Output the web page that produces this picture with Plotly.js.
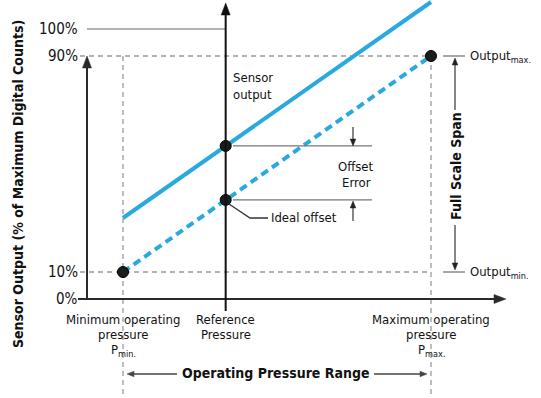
<!DOCTYPE html>
<html>
<head>
<meta charset="utf-8">
<script src="https://cdn.plot.ly/plotly-3.0.1.min.js"></script>
<style>html,body{margin:0;padding:0;background:#fff;}#chart{width:541px;height:398px;}</style>
</head>
<body>
<div id="chart"></div>
<script>
// ---- data ----
const pressureNames = ["Pmin", "Reference", "Pmax"];
const pressure = [10, 40, 100];            // operating pressure (arbitrary units)
const idealOutput = [10, 36.7, 90];        // % of max digital counts
const sensorOutput = [30, 56.7, 110];      // % of max digital counts (with offset error)
const yTickVals = [100, 90, 10, 0];
const yTickText = ["100%", "90%", "10%", "0%"];
const dotX = [10, 40, 40, 100];
const dotY = [10, 36.7, 56.7, 90];

// ---- layout helpers (pixel <-> data for label placement) ----
const W = 541, H = 398;
const sx = 308 / 90, x0 = 123 - 10 * sx;
const sy = 243 / 90, y0 = 299;
const X = p => (p - x0) / sx;
const Y = p => (y0 - p) / sy;
const PX = v => x0 + v * sx;
const PY = v => y0 - v * sy;

const FONT = "Liberation Sans Narrow, DejaVu Sans Condensed, Roboto, sans-serif";
const BLUE = "#29a9e0";
const GRAY = "#9a9a9a";
const DARK = "#2a2a2a";

const traces = [
  {x: pressure, y: sensorOutput, mode: "lines", line: {color: BLUE, width: 4}, hoverinfo: "skip"},
  {x: pressure, y: idealOutput, mode: "lines", line: {color: BLUE, width: 4, dash: "8px,5px"}, hoverinfo: "skip"},
  {x: dotX, y: dotY, mode: "markers", marker: {color: "#1c1c1c", size: 11, line: {color: "#000", width: 1}}, hoverinfo: "skip"}
];

const shapes = [];
const dashG = {color: GRAY, width: 1.3, dash: "5px,4px"};
// dashed guide lines
shapes.push({type: "line", x0: X(80), x1: pressure[2], y0: idealOutput[2], y1: idealOutput[2], line: dashG, layer: "below"});
shapes.push({type: "line", x0: X(80), x1: pressure[2], y0: idealOutput[0], y1: idealOutput[0], line: dashG, layer: "below"});
shapes.push({type: "line", x0: pressure[0], x1: pressure[0], y0: idealOutput[2], y1: Y(396), line: dashG, layer: "below"});
shapes.push({type: "line", x0: pressure[2], x1: pressure[2], y0: idealOutput[2], y1: Y(396), line: dashG, layer: "below"});
// 100% line
shapes.push({type: "line", x0: X(87), x1: pressure[1], y0: 100, y1: 100, line: {color: GRAY, width: 1.3}, layer: "below"});
// offset error lines
shapes.push({type: "line", x0: X(233), x1: X(372), y0: sensorOutput[1], y1: sensorOutput[1], line: {color: "#777", width: 1.3}});
shapes.push({type: "line", x0: X(233), x1: X(372), y0: idealOutput[1], y1: idealOutput[1], line: {color: "#777", width: 1.3}});
// output max/min short lines
shapes.push({type: "line", x0: X(443), x1: X(465), y0: 90, y1: 90, line: {color: "#777", width: 1.3}});
shapes.push({type: "line", x0: X(443), x1: X(465), y0: 10, y1: 10, line: {color: "#777", width: 1.3}});
// ideal offset leader
shapes.push({type: "path", path: `M ${X(229)} ${Y(204)} L ${X(250)} ${Y(218)} L ${X(268)} ${Y(218)}`, line: {color: "#333", width: 1.3}});

// arrows drawn as shapes (pixel geometry converted to data units)
function arrow(hx, hy, tx, ty, color, w, len, half) {
  const dx = hx - tx, dy = hy - ty, L = Math.hypot(dx, dy);
  const ux = dx / L, uy = dy / L;
  const bx = hx - ux * len, by = hy - uy * len;
  shapes.push({type: "line", x0: X(tx), y0: Y(ty), x1: X(bx + ux * 1), y1: Y(by + uy * 1), line: {color: color, width: w}});
  const p1x = bx - uy * half, p1y = by + ux * half;
  const p2x = bx + uy * half, p2y = by - ux * half;
  shapes.push({type: "path", path: `M ${X(hx)} ${Y(hy)} L ${X(p1x)} ${Y(p1y)} L ${X(p2x)} ${Y(p2y)} Z`,
    fillcolor: color, line: {color: color, width: 0.5}});
}
// axes
arrow(87, PY(90), 87, PY(0), DARK, 2, 12, 4.5);
arrow(506, PY(0), 78, PY(0), DARK, 2, 12, 4.5);
// reference line arrow
arrow(PX(pressure[1]), 3, PX(pressure[1]), 311, "#111", 2, 12, 4.5);
// offset error arrows
arrow(353, 146, 353, 127, "#222", 1.1, 7, 2.8);
arrow(353, 201, 353, 221, "#222", 1.1, 7, 2.8);
// full scale span arrows
arrow(455, 58, 455, 110, "#222", 1.1, 7, 2.8);
arrow(455, 270, 455, 225, "#222", 1.1, 7, 2.8);
// operating pressure range arrows
arrow(127, 374, 177, 374, "#444", 1.3, 7, 2.8);
arrow(427, 374, 374, 374, "#444", 1.3, 7, 2.8);

const ann = [];
function label(x, y, text, opts) {
  ann.push(Object.assign({x: x, y: y, xref: "x", yref: "y", text: text, showarrow: false,
    font: {family: FONT, size: 14, color: "#111"}}, opts || {}));
}
// y tick labels
yTickVals.forEach((v, i) => label(X(80), v, yTickText[i], {xanchor: "right", font: {family: FONT, size: 15, color: "#111"}}));

const f13 = {font: {family: FONT, size: 13, color: "#111"}};
// text labels
label(X(231), Y(77), "Sensor", Object.assign({xanchor: "left"}, f13));
label(X(231), Y(94), "output", Object.assign({xanchor: "left"}, f13));
label(X(356), Y(166), "Offset", Object.assign({xanchor: "center"}, f13));
label(X(356), Y(182), "Error", Object.assign({xanchor: "center"}, f13));
label(X(269), Y(217), "Ideal offset", Object.assign({xanchor: "left"}, f13));
label(X(468), 90, "Output<sub>max.</sub>", Object.assign({xanchor: "left"}, f13));
label(X(468), 10, "Output<sub>min.</sub>", Object.assign({xanchor: "left"}, f13));
label(X(456), Y(166), "<b>Full Scale Span</b>", {textangle: -90, font: {family: FONT, size: 14, color: "#111"}});

label(pressure[0], Y(319), "Minimum operating", f13);
label(pressure[0], Y(334), "pressure", f13);
label(pressure[0], Y(350), "P<sub>min.</sub>", f13);
label(pressure[1], Y(319), "Reference", f13);
label(pressure[1], Y(334), "Pressure", f13);
label(pressure[2], Y(319), "Maximum operating", f13);
label(pressure[2], Y(334), "pressure", f13);
label(pressure[2], Y(350), "P<sub>max.</sub>", f13);
label(X(276), Y(373), "<b>Operating Pressure Range</b>", {font: {family: FONT, size: 14, color: "#111"}});
label(X(18), Y(184), "<b>Sensor Output (% of Maximum Digital Counts)</b>", {textangle: -90, font: {family: FONT, size: 14, color: "#111"}});

const layout = {
  width: W, height: H,
  margin: {l: 0, r: 0, t: 0, b: 0},
  paper_bgcolor: "#fff", plot_bgcolor: "#fff",
  showlegend: false,
  xaxis: {range: [X(0), X(W)], visible: false, fixedrange: true},
  yaxis: {range: [Y(H), Y(0)], visible: false, fixedrange: true},
  shapes: shapes,
  annotations: ann
};
Plotly.newPlot("chart", traces, layout, {staticPlot: true, displayModeBar: false});
</script>
</body>
</html>
